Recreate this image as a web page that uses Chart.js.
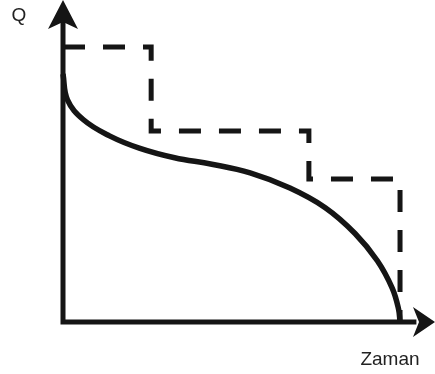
<!DOCTYPE html>
<html>
<head>
<meta charset="utf-8">
<script src="https://cdn.jsdelivr.net/npm/chart.js@4/dist/chart.umd.min.js"></script>
<style>
  html, body { margin: 0; padding: 0; background: #fff; }
  #wrap { width: 435px; height: 374px; }
</style>
</head>
<body>
<div id="wrap"><canvas id="grafik"></canvas></div>
<script>
// eksen adlari
const yAdi = "Q";
const xAdi = "Zaman";

// kesikli basamak cizgisi (zaman, Q)
const basamakX = [0, 23.7, 23.7, 66.1, 66.1, 90.6, 90.6];
const basamakY = [85.4, 85.4, 59.3, 59.3, 44.4, 44.4, 0];

// egri (zaman, Q)
const egriX = [0, 1.2, 5.5, 12.5, 20.5, 30.0, 40.0, 50.3, 61.0, 70.5, 78.5, 84.5, 88.5, 90.2, 90.6];
const egriY = [77.0, 69.0, 62.8, 57.8, 54.0, 51.0, 49.0, 46.3, 41.6, 35.5, 27.5, 19.0, 10.5, 4.0, 0];

const eksenMax = 100;
const renk = "#151515";

const nokta = (xs, ys) => xs.map((x, i) => ({ x: x, y: ys[i] }));

// oklar ve yazilar
const okEklentisi = {
  id: "oklar",
  afterDatasetsDraw(chart) {
    const c = chart.ctx;
    const sx = chart.scales.x, sy = chart.scales.y;
    const x0 = sx.getPixelForValue(0), y0 = sy.getPixelForValue(0);
    const xu = sx.getPixelForValue(eksenMax), yu = sy.getPixelForValue(eksenMax);
    c.save();
    c.fillStyle = renk;
    // dikey ok
    c.beginPath();
    c.moveTo(x0, yu);
    c.lineTo(x0 + 15, yu + 29);
    c.lineTo(x0, yu + 22);
    c.lineTo(x0 - 15, yu + 29);
    c.closePath();
    c.fill();
    // yatay ok
    c.beginPath();
    c.moveTo(xu, y0);
    c.lineTo(xu - 22, y0 - 15);
    c.lineTo(xu - 16, y0);
    c.lineTo(xu - 22, y0 + 15);
    c.closePath();
    c.fill();
    // yazilar
    c.fillStyle = "#222";
    c.font = "19px 'Liberation Sans', Arial, sans-serif";
    c.textBaseline = "alphabetic";
    c.textAlign = "center";
    c.fillText(yAdi, x0 - 44, yu + 21);
    c.fillText(xAdi, xu - 45, y0 + 43);
    c.restore();
  }
};

new Chart(document.getElementById("grafik"), {
  type: "line",
  data: {
    datasets: [
      {
        // eksenler
        data: [{ x: 0, y: eksenMax - 6 }, { x: 0, y: 0 }, { x: eksenMax - 5, y: 0 }],
        borderColor: renk,
        borderWidth: 5,
        pointRadius: 0,
        tension: 0,
        borderJoinStyle: "miter",
        clip: false
      },
      {
        data: nokta(basamakX, basamakY),
        borderColor: renk,
        borderWidth: 5,
        borderDash: [22, 18],
        borderCapStyle: "butt",
        borderJoinStyle: "miter",
        pointRadius: 0,
        tension: 0,
        clip: false
      },
      {
        data: nokta(egriX, egriY),
        borderColor: renk,
        borderWidth: 5.5,
        pointRadius: 0,
        tension: 0.4,
        clip: false
      }
    ]
  },
  options: {
    responsive: true,
    maintainAspectRatio: false,
    animation: false,
    layout: { padding: { left: 63, right: 0, top: 0, bottom: 52 } },
    plugins: { legend: { display: false }, tooltip: { enabled: false } },
    scales: {
      x: { type: "linear", min: 0, max: eksenMax, display: false },
      y: { type: "linear", min: 0, max: eksenMax, display: false }
    }
  },
  plugins: [okEklentisi]
});
</script>
</body>
</html>
